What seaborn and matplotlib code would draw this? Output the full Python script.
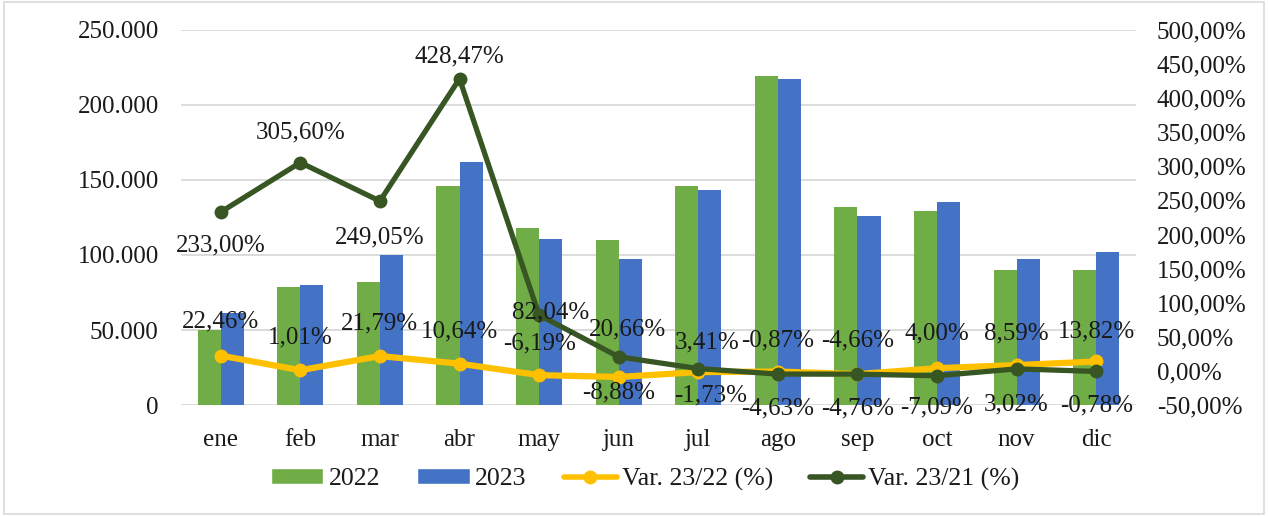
import numpy as np
import pandas as pd
import matplotlib
matplotlib.use("Agg")
import matplotlib.pyplot as plt
from matplotlib.ticker import FuncFormatter, MultipleLocator
from matplotlib.patches import Rectangle
from matplotlib.lines import Line2D
from matplotlib.patches import Patch
import seaborn as sns

# ---- data ----
meses = ["ene", "feb", "mar", "abr", "may", "jun", "jul", "ago", "sep", "oct", "nov", "dic"]
v2022 = [50000, 78700, 82000, 146000, 118000, 110000, 146000, 219300, 132200, 129500, 90000, 90000]
v2023 = [61200, 79700, 100000, 162000, 110700, 97300, 143500, 217400, 126000, 135300, 97500, 101800]
var_23_22 = [22.46, 1.01, 21.79, 10.64, -6.19, -8.88, -1.73, -0.87, -4.66, 4.00, 8.59, 13.82]
var_23_21 = [233.00, 305.60, 249.05, 428.47, 82.04, 20.66, 3.41, -4.63, -4.76, -7.09, 3.02, -0.78]

# label offsets (pixels, dx, dy with dy positive downward)
off_22 = [(0, -34), (0, -33), (0, -33), (0, -32), (0, -32), (0, 15),
          (12, 23), (0, -31), (0, -34), (0, -35), (0, -32), (0, -30)]
off_21 = [(0, 33), (0, -30), (0, 36), (0, -22), (12, -3), (9, -27),
          (9, -26), (0, 34), (0, 34), (0, 32), (0, 36), (0, 34)]

GREEN = "#70AD47"
BLUE = "#4472C4"
YELLOW = "#FFC000"
DKGREEN = "#375623"
TXT = "#1a1a1a"
GRID = "#D9D9D9"

sns.set_theme(style="white")
plt.rcParams["font.family"] = ["Liberation Serif", "DejaVu Serif"]
FS = 18

df = pd.DataFrame({
    "mes": meses * 2,
    "valor": v2022 + v2023,
    "año": ["2022"] * len(meses) + ["2023"] * len(meses),
})

fig = plt.figure(figsize=(12.68, 5.16), dpi=100)
ax = fig.add_axes([0.1427, 0.2151, 0.8959 - 0.1427, 0.9419 - 0.2151])

sns.barplot(data=df, x="mes", y="valor", hue="año", palette=[GREEN, BLUE],
            saturation=1, width=0.58, gap=0, linewidth=0, ax=ax, legend=False, zorder=2)

ax.set_ylim(0, 250000)
ax.yaxis.set_major_locator(MultipleLocator(50000))
ax.yaxis.set_major_formatter(FuncFormatter(lambda v, p: f"{int(v):,}".replace(",", ".")))
ax.set_xlim(-0.5, len(meses) - 0.5)
ax.grid(axis="y", color=GRID, linewidth=1.3, zorder=0)
ax.set_axisbelow(True)
for s in ax.spines.values():
    s.set_visible(False)
ax.set_xlabel("")
ax.set_ylabel("")
ax.tick_params(axis="y", length=0, pad=16, labelsize=FS, labelcolor=TXT)
ax.tick_params(axis="x", length=0, pad=17, labelsize=FS, labelcolor=TXT)

ax2 = ax.twinx()
x = np.arange(len(meses))
sns.lineplot(x=x, y=var_23_22, ax=ax2, color=YELLOW, linewidth=4.5, marker="o",
             markersize=10, markeredgewidth=0, zorder=3)
sns.lineplot(x=x, y=var_23_21, ax=ax2, color=DKGREEN, linewidth=3.8, marker="o",
             markersize=10, markeredgewidth=0, zorder=4)
ax2.set_ylim(-50, 500)
ax2.set_xlim(-0.5, len(meses) - 0.5)
ax2.yaxis.set_major_locator(MultipleLocator(50))
ax2.yaxis.set_major_formatter(FuncFormatter(lambda v, p: f"{v:.2f}".replace(".", ",") + "%"))
ax2.tick_params(axis="y", length=0, pad=15, labelsize=FS, labelcolor=TXT)
for s in ax2.spines.values():
    s.set_visible(False)
ax2.set_xlabel("")
ax2.set_ylabel("")
ax2.grid(False)

def fmt(v):
    return f"{v:.2f}".replace(".", ",") + "%"

for i, (a, b) in enumerate(zip(var_23_22, var_23_21)):
    dx, dy = off_22[i]
    ax2.annotate(fmt(a), (i, a), xytext=(dx, -dy), textcoords="offset pixels",
                 ha="center", va="center", fontsize=FS, color=TXT, zorder=6)
    dx, dy = off_21[i]
    ax2.annotate(fmt(b), (i, b), xytext=(dx, -dy), textcoords="offset pixels",
                 ha="center", va="center", fontsize=FS, color=TXT, zorder=6)

handles = [Patch(facecolor=GREEN, label="2022"),
           Patch(facecolor=BLUE, label="2023"),
           Line2D([0], [0], color=YELLOW, lw=4, marker="o", markersize=9, label="Var. 23/22 (%)"),
           Line2D([0], [0], color=DKGREEN, lw=4, marker="o", markersize=9, label="Var. 23/21 (%)")]
fig.legend(handles=handles, loc="center", bbox_to_anchor=(645 / 1268, 1 - 479 / 516), ncol=4,
           frameon=False, fontsize=18.5, handlelength=2.05, handleheight=0.55,
           columnspacing=1.45, handletextpad=0.2, labelcolor=TXT)

fig.patches.append(Rectangle((0.003, 0.004), 0.994, 0.992, transform=fig.transFigure,
                             fill=False, edgecolor=GRID, linewidth=1.2))

fig.savefig("out.png", dpi=100)
